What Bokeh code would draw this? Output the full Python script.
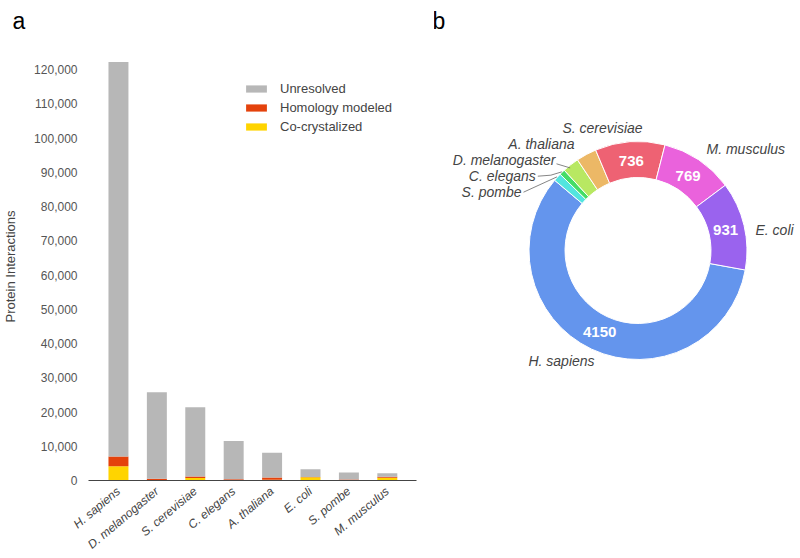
import math
from bokeh.plotting import figure
from bokeh.layouts import row
from bokeh.models import (ColumnDataSource, Range1d, FixedTicker, Title,
                          NumeralTickFormatter, Legend, LegendItem)
from bokeh.core.properties import value
from bokeh.embed import file_html
from bokeh.resources import INLINE

# ---------------- data ----------------
species = ["H. sapiens", "D. melanogaster", "S. cerevisiae", "C. elegans",
           "A. thaliana", "E. coli", "S. pombe", "M. musculus"]
co_crystalized = [4150, 175, 736, 60, 215, 931, 85, 769]
homology_modeled = [2850, 325, 464, 340, 685, 120, 215, 350]
unresolved = [115200, 25300, 20200, 11100, 7200, 2250, 2040, 1020]
y_ticks = list(range(0, 120001, 10000))

pie_species = ["H. sapiens", "S. pombe", "C. elegans", "D. melanogaster",
               "A. thaliana", "S. cerevisiae", "M. musculus", "E. coli"]
pie_values = [4150, 85, 60, 175, 215, 736, 769, 931]

# ---------------- style ----------------
FONT = value("Liberation Sans")
GRAY, RED, YELLOW = "#b7b7b7", "#e4420c", "#ffd400"
pie_colors = ["#6495ed", "#52e5df", "#44dd66", "#b8e862",
              "#ecb866", "#ee6273", "#ea62dc", "#9a63ee"]

TOP = 52
FRAME_W, FRAME_H = 328, 428


def panel_letter(fig, letter, offset):
    # spacer title (closest to the frame), then the panel letter above it
    fig.add_layout(Title(text=" ", text_font_size="1px", standoff=7), "above")
    fig.add_layout(Title(text=letter, text_font="Liberation Sans",
                         text_font_size="23px", text_font_style="normal",
                         text_color="#000000", align="left", vertical_align="top",
                         offset=offset, standoff=14), "above")


# ---------------- bar chart (a) ----------------
idx = list(range(len(species)))
src = ColumnDataSource(dict(idx=idx, species=species, co=co_crystalized,
                            hom=homology_modeled, unres=unresolved))
p = figure(x_range=Range1d(-0.78, 7.76), y_range=Range1d(0, 125000),
           frame_width=FRAME_W, frame_height=FRAME_H,
           min_border_left=87, min_border_right=18, min_border_top=TOP,
           min_border_bottom=0, output_backend="svg", toolbar_location=None,
           title=None)
rs = p.vbar_stack(["co", "hom", "unres"], x="idx", width=0.52,
                  color=[YELLOW, RED, GRAY], line_width=0, source=src)

p.xgrid.visible = False
p.ygrid.visible = False
p.outline_line_color = None

p.yaxis.ticker = FixedTicker(ticks=y_ticks)
p.yaxis.formatter = NumeralTickFormatter(format="0,0")
p.yaxis.axis_line_color = None
p.yaxis.major_tick_line_color = None
p.yaxis.minor_tick_line_color = None
p.yaxis.major_label_text_font = "Liberation Sans"
p.yaxis.major_label_text_font_size = "12px"
p.yaxis.major_label_text_color = "#555555"
p.yaxis.major_label_standoff = 5
p.yaxis.axis_label = "Protein Interactions"
p.yaxis.axis_label_text_font = "Liberation Sans"
p.yaxis.axis_label_text_font_size = "13px"
p.yaxis.axis_label_text_font_style = "normal"
p.yaxis.axis_label_text_color = "#444444"
p.yaxis.axis_label_standoff = 13

p.xaxis.ticker = FixedTicker(ticks=idx)
p.xaxis.major_label_overrides = {i: s for i, s in zip(idx, species)}
p.xaxis.axis_line_color = "#444444"
p.xaxis.major_tick_line_color = None
p.xaxis.minor_tick_line_color = None
p.xaxis.major_label_orientation = 0.7
p.xaxis.major_label_text_font = "Liberation Sans"
p.xaxis.major_label_text_font_size = "12px"
p.xaxis.major_label_text_font_style = "italic"
p.xaxis.major_label_text_color = "#444444"
p.xaxis.major_label_standoff = 3

legend = Legend(items=[LegendItem(label="Unresolved", renderers=[rs[2]]),
                       LegendItem(label="Homology modeled", renderers=[rs[1]]),
                       LegendItem(label="Co-crystalized", renderers=[rs[0]])],
                location=(155, FRAME_H - 27.5 - 56), padding=0, margin=0, spacing=1,
                glyph_width=26, glyph_height=9, label_height=18,
                label_standoff=11, border_line_color=None,
                background_fill_alpha=0, label_text_font="Liberation Sans",
                label_text_font_size="13px", label_text_color="#444444")
p.add_layout(legend)
panel_letter(p, "a", -76)

# ---------------- donut chart (b) ----------------
Q_W, Q_H = 367, 498   # frame spans page y 52..550
q = figure(x_range=Range1d(0, Q_W), y_range=Range1d(0, Q_H),
           frame_width=Q_W, frame_height=Q_H,
           min_border_left=0, min_border_right=0, min_border_top=TOP,
           min_border_bottom=0, output_backend="svg", toolbar_location=None,
           title=None)
q.axis.visible = False
q.xgrid.visible = False
q.ygrid.visible = False
q.outline_line_color = None
panel_letter(q, "b", -2)

CX, CY, R_IN, R_OUT = 203.5, 300, 73, 109
START = 100.3  # degrees clockwise from 12 o'clock
total = sum(pie_values)
cw_start, cw_end, mids = [], [], []
acc = START
for v in pie_values:
    a = v / total * 360
    cw_start.append(acc)
    cw_end.append(acc + a)
    mids.append(acc + a / 2)
    acc += a
start_ang = [math.radians(90 - e) for e in cw_end]
end_ang = [math.radians(90 - s) for s in cw_start]
psrc = ColumnDataSource(dict(species=pie_species, value=pie_values,
                             start=start_ang, end=end_ang, color=pie_colors))
q.annular_wedge(x=CX, y=CY, inner_radius=R_IN, outer_radius=R_OUT,
                start_angle="start", end_angle="end", color="color",
                line_color="white", line_width=1, source=psrc)

# value labels inside the large slices
R_MID = 90
big = [i for i, v in enumerate(pie_values) if v / total > 0.05]
q.text(x=[CX + R_MID * math.sin(math.radians(mids[i])) for i in big],
       y=[CY + R_MID * math.cos(math.radians(mids[i])) for i in big],
       text=[str(pie_values[i]) for i in big], text_font=FONT,
       text_font_size="15px", text_font_style="bold", text_color="white",
       text_align="center", text_baseline="middle")

# outer species labels (layout positions in pixels)
label_pos = {
    "H. sapiens": (127, 190, "center"),
    "S. pombe": (87, 358.3, "right"),
    "C. elegans": (101.3, 374.3, "right"),
    "D. melanogaster": (121, 390.7, "right"),
    "A. thaliana": (140, 406.7, "right"),
    "S. cerevisiae": (168, 422.7, "center"),
    "M. musculus": (272, 401.7, "left"),
    "E. coli": (321, 321, "left"),
}
for name in pie_species:
    lx, ly, al = label_pos[name]
    q.text(x=[lx], y=[ly], text=[name], text_font=FONT, text_font_size="14px",
           text_font_style="italic", text_color="#444444", text_align=al,
           text_baseline="middle")

# leader lines for the small slices
def outer_pt(name, r=R_OUT + 0.5):
    i = pie_species.index(name)
    a = math.radians(mids[i])
    return CX + r * math.sin(a), CY + r * math.cos(a)

lx, ly, _ = label_pos["S. pombe"]
ox, oy = outer_pt("S. pombe")
q.line([lx + 2, ox], [ly, oy], line_color="#666666", line_width=0.8)
lx, ly, _ = label_pos["C. elegans"]
ox, oy = outer_pt("C. elegans")
q.line([lx + 2, lx + 15, ox], [ly, ly + 1, oy], line_color="#666666", line_width=0.8)
lx, ly, _ = label_pos["D. melanogaster"]
ox, oy = outer_pt("D. melanogaster", R_OUT - 4)
q.line([lx + 1, ox - 3], [ly - 4, oy], line_color="#666666", line_width=0.8)

layout = row(p, q)
open("out.html", "w").write(file_html(layout, INLINE))
